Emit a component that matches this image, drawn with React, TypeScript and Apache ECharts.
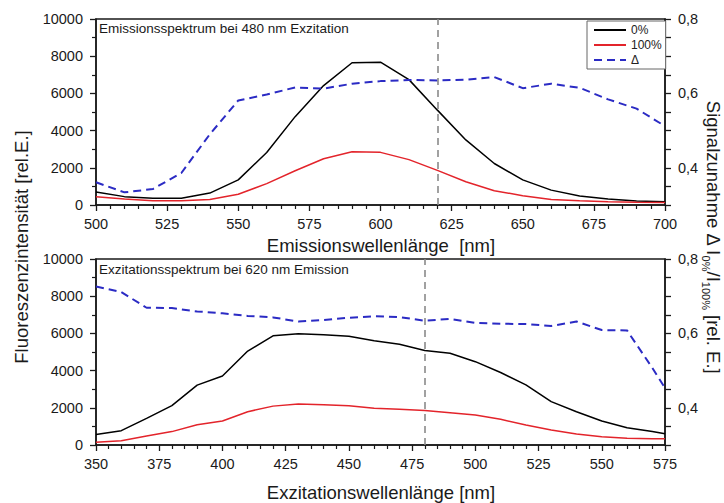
import React, { useEffect, useRef } from 'react';
import * as echarts from 'echarts';

// ---------- data ----------
const emWavelengths = [500, 510, 520, 530, 540, 550, 560, 570, 580, 590, 600, 610, 620, 630, 640, 650, 660, 670, 680, 690, 700];
const em0 = [700, 450, 360, 360, 640, 1350, 2820, 4750, 6420, 7650, 7680, 6740, 5100, 3500, 2230, 1350, 800, 480, 320, 220, 180];
const em100 = [450, 320, 230, 230, 300, 580, 1150, 1840, 2490, 2860, 2830, 2440, 1860, 1250, 770, 500, 300, 230, 180, 145, 140];
const emDelta = [0.361, 0.334, 0.343, 0.386, 0.49, 0.581, 0.597, 0.616, 0.613, 0.626, 0.633, 0.636, 0.635, 0.637, 0.644, 0.614, 0.626, 0.615, 0.584, 0.559, 0.512];

const exWavelengths = [350, 360, 370, 380, 390, 400, 410, 420, 430, 440, 450, 460, 470, 480, 490, 500, 510, 520, 530, 540, 550, 560, 570, 575];
const ex0 = [570, 770, 1430, 2120, 3220, 3710, 5050, 5870, 5980, 5930, 5850, 5600, 5420, 5080, 4930, 4480, 3900, 3230, 2330, 1790, 1290, 930, 720, 600];
const ex100 = [150, 230, 480, 720, 1090, 1290, 1790, 2090, 2200, 2160, 2110, 1970, 1920, 1850, 1740, 1610, 1380, 1080, 810, 590, 450, 360, 340, 330];
const exDelta = [0.726, 0.711, 0.669, 0.668, 0.659, 0.654, 0.647, 0.643, 0.632, 0.636, 0.642, 0.646, 0.644, 0.634, 0.639, 0.628, 0.626, 0.625, 0.62, 0.632, 0.609, 0.608, 0.507, 0.453];

const seriesNames = ['0%', '100%', 'Δ'];
const topTitle = 'Emissionsspektrum bei 480 nm Exzitation';
const bottomTitle = 'Exzitationsspektrum bei 620 nm Emission';
const topXName = 'Emissionswellenlänge  [nm]';
const bottomXName = 'Exzitationswellenlänge [nm]';
const leftYName = 'Fluoreszenzintensität [rel.E.]';
const topMarker = 620;
const bottomMarker = 480;

const FONT = '"Liberation Sans", Arial, Helvetica, sans-serif';
const AX = '#1a1a1a';

const pairs = (xs: number[], ys: number[]) => xs.map((x, i) => [x, ys[i]]);

function xAxis(gridIndex: number, min: number, max: number) {
  return {
    type: 'value', gridIndex, min, max, interval: 25,
    axisLine: { show: true, onZero: false, lineStyle: { color: AX, width: 1.5 } },
    axisTick: { show: true, inside: false, length: 6, lineStyle: { color: AX, width: 1.3 } },
    minorTick: { show: true, splitNumber: 5, length: 4, lineStyle: { color: AX, width: 1.2 } },
    axisLabel: { color: AX, fontSize: 14.5, fontFamily: FONT, margin: 11, formatter: (v: number) => String(v) },
    splitLine: { show: false },
    minorSplitLine: { show: false },
  };
}

function yLeft(gridIndex: number) {
  return {
    type: 'value', gridIndex, min: 0, max: 10000, interval: 2000, position: 'left',
    axisLine: { show: true, onZero: false, lineStyle: { color: AX, width: 1.5 } },
    axisTick: { show: true, inside: false, length: 6, lineStyle: { color: AX, width: 1.3 } },
    minorTick: { show: true, splitNumber: 2, length: 4, lineStyle: { color: AX, width: 1.2 } },
    axisLabel: { color: AX, fontSize: 14.5, fontFamily: FONT, margin: 13, formatter: (v: number) => String(v) },
    splitLine: { show: false },
  };
}

function yRight(gridIndex: number) {
  return {
    type: 'value', gridIndex, min: 0.3, max: 0.8, interval: 0.1, position: 'right',
    axisLine: { show: true, onZero: false, lineStyle: { color: AX, width: 1.5 } },
    axisTick: { show: true, inside: false, length: 6, lineStyle: { color: AX, width: 1.3 } },
    minorTick: { show: true, splitNumber: 2, length: 6, lineStyle: { color: AX, width: 1.3 } },
    axisLabel: {
      color: AX, fontSize: 14.5, fontFamily: FONT, margin: 13,
      formatter: (v: number) => {
        const k = Math.round(v * 10);
        return k === 4 || k === 6 || k === 8 ? (k / 10).toFixed(1).replace('.', ',') : '';
      },
    },
    splitLine: { show: false },
  };
}

const markLine = (x: number) => ({
  silent: true,
  symbol: ['none', 'none'],
  label: { show: false },
  lineStyle: { color: '#8a8a8a', type: [7, 5], width: 1.6 },
  data: [{ xAxis: x }],
});

export default function App() {
  const ref = useRef<HTMLDivElement>(null);
  useEffect(() => {
    if (!ref.current) return;
    const chart = echarts.init(ref.current, undefined, { renderer: 'svg' });
    const lineBlack = { color: '#000000', width: 1.5 };
    const lineRed = { color: '#e3242b', width: 1.5 };
    const lineBlue = { color: '#2b2bc4', width: 2, type: [8, 5] };
    chart.setOption({
      animation: false,
      backgroundColor: '#ffffff',
      textStyle: { fontFamily: FONT },
      grid: [
        { left: 96, top: 19, width: 569, height: 186, show: true, borderColor: AX, borderWidth: 1.5, containLabel: false },
        { left: 96, top: 259, width: 569, height: 186, show: true, borderColor: AX, borderWidth: 1.5, containLabel: false },
      ],
      xAxis: [xAxis(0, 500, 700), xAxis(1, 350, 575)],
      yAxis: [yLeft(0), yRight(0), yLeft(1), yRight(1)],
      legend: {
        orient: 'vertical', left: 587, top: 21,
        data: seriesNames,
        itemWidth: 32, itemHeight: 12, itemGap: 3,
        padding: [3, 4, 3, 6],
        borderColor: '#666', borderWidth: 1, backgroundColor: '#ffffff',
        itemStyle: { opacity: 0 },
        textStyle: { fontSize: 12, fontFamily: FONT, color: '#222' },
        selectedMode: false,
      },
      series: [
        { name: seriesNames[0], type: 'line', xAxisIndex: 0, yAxisIndex: 0, data: pairs(emWavelengths, em0), symbol: 'none', lineStyle: lineBlack, itemStyle: { color: lineBlack.color }, markLine: markLine(topMarker) },
        { name: seriesNames[1], type: 'line', xAxisIndex: 0, yAxisIndex: 0, data: pairs(emWavelengths, em100), symbol: 'none', lineStyle: lineRed, itemStyle: { color: lineRed.color } },
        { name: seriesNames[2], type: 'line', xAxisIndex: 0, yAxisIndex: 1, data: pairs(emWavelengths, emDelta), symbol: 'none', lineStyle: lineBlue, itemStyle: { color: lineBlue.color } },
        { name: seriesNames[0], type: 'line', xAxisIndex: 1, yAxisIndex: 2, data: pairs(exWavelengths, ex0), symbol: 'none', lineStyle: lineBlack, itemStyle: { color: lineBlack.color }, markLine: markLine(bottomMarker) },
        { name: seriesNames[1], type: 'line', xAxisIndex: 1, yAxisIndex: 2, data: pairs(exWavelengths, ex100), symbol: 'none', lineStyle: lineRed, itemStyle: { color: lineRed.color } },
        { name: seriesNames[2], type: 'line', xAxisIndex: 1, yAxisIndex: 3, data: pairs(exWavelengths, exDelta), symbol: 'none', lineStyle: lineBlue, itemStyle: { color: lineBlue.color } },
      ],
      graphic: [
        { type: 'text', left: 99, top: 21, style: { text: topTitle, fontSize: 13.5, fontFamily: FONT, fill: '#1a1a1a' } },
        { type: 'text', left: 99, top: 262, style: { text: bottomTitle, fontSize: 13.5, fontFamily: FONT, fill: '#1a1a1a' } },
        { type: 'text', x: 381, y: 245, style: { text: topXName, fontSize: 18.5, fontFamily: FONT, fill: '#1a1a1a', align: 'center', verticalAlign: 'middle' } },
        { type: 'text', x: 381, y: 492, style: { text: bottomXName, fontSize: 18.5, fontFamily: FONT, fill: '#1a1a1a', align: 'center', verticalAlign: 'middle' } },
        { type: 'text', x: 21, y: 247, rotation: Math.PI / 2, style: { text: leftYName, fontSize: 18.5, fontFamily: FONT, fill: '#1a1a1a', align: 'center', verticalAlign: 'middle' } },
        {
          type: 'text', x: 713, y: 237, rotation: -Math.PI / 2,
          style: {
            text: 'Signalzunahme Δ I{sub|0%}/I{sub|100%} [rel. E.]',
            fontSize: 18.5, fontFamily: FONT, fill: '#1a1a1a', align: 'center', verticalAlign: 'middle',
            lineHeight: 26,
            rich: {
              sub: { fontSize: 11, fontFamily: FONT, fill: '#1a1a1a', lineHeight: 12, verticalAlign: 'bottom' },
            },
          },
        },
      ],
    });
    return () => chart.dispose();
  }, []);
  return <div ref={ref} style={{ position: 'fixed', left: 0, top: 0, width: 724, height: 503, background: '#fff' }} />;
}
